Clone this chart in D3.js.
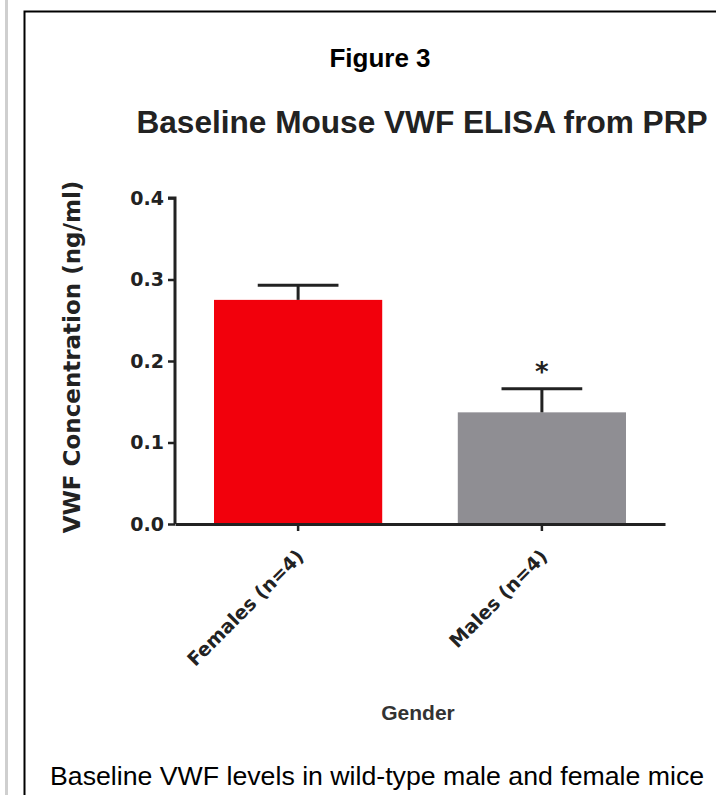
<!DOCTYPE html>
<html>
<head>
<meta charset="utf-8">
<script src="https://cdn.jsdelivr.net/npm/d3@7"></script>
<style>
  body { margin: 0; background: #fff; }
  svg { display: block; font-family: "Liberation Sans", Arial, sans-serif; }
  .chart-text { font-family: "DejaVu Sans", sans-serif; font-weight: bold; }
</style>
</head>
<body>
<svg id="chart" width="716" height="795"></svg>
<script>
// Data
var groups = ["Females (n=4)", "Males (n=4)"];
var means = [0.275, 0.137];
var errors = [0.018, 0.029];
var barColors = ["#f2000c", "#8f8e93"];
var significant = [false, true];
var yTicks = [0.0, 0.1, 0.2, 0.3, 0.4];

var svg = d3.select("#chart");

// Page furniture
svg.append("rect").attr("x", 5).attr("y", 0).attr("width", 3).attr("height", 795).attr("fill", "#cfcfcf");
svg.append("path").attr("d", "M24.5,795V11.5H716").attr("fill", "none").attr("stroke", "#000").attr("stroke-width", 2);

svg.append("text").attr("x", 380).attr("y", 67).attr("text-anchor", "middle")
    .style("font-size", "26px").style("font-weight", "bold").text("Figure 3");

svg.append("text").attr("x", 422).attr("y", 133).attr("text-anchor", "middle")
    .attr("fill", "#222").style("font-size", "31.6px").style("font-weight", "bold")
    .text("Baseline Mouse VWF ELISA from PRP");

// Scales
var x = d3.scaleBand().domain(groups).range([175, 665]).paddingInner(0.31).paddingOuter(0.16);
var y = d3.scaleLinear().domain([0, 0.4]).range([524, 198]);

// Bars
svg.selectAll("rect.bar").data(groups).enter().append("rect")
    .attr("class", "bar")
    .attr("x", function(d) { return x(d); })
    .attr("y", function(d, i) { return y(means[i]); })
    .attr("width", x.bandwidth())
    .attr("height", function(d, i) { return y(0) - y(means[i]); })
    .attr("fill", function(d, i) { return barColors[i]; });

// Error bars (upper only)
var capHalf = x.bandwidth() * 0.24;
groups.forEach(function(g, i) {
  var cx = x(g) + x.bandwidth() / 2;
  var top = y(means[i] + errors[i]);
  svg.append("line").attr("x1", cx).attr("x2", cx).attr("y1", y(means[i])).attr("y2", top)
      .attr("stroke", "#222").attr("stroke-width", 3);
  svg.append("line").attr("x1", cx - capHalf).attr("x2", cx + capHalf).attr("y1", top).attr("y2", top)
      .attr("stroke", "#222").attr("stroke-width", 3);
  if (significant[i]) {
    svg.append("text").attr("class", "chart-text").attr("x", cx).attr("y", top - 8).attr("text-anchor", "middle")
        .attr("fill", "#222").style("font-size", "26px").text("*");
  }
});

// Y axis
var yAxis = svg.append("g").attr("transform", "translate(175,0)")
    .call(d3.axisLeft(y).tickValues(yTicks).tickFormat(d3.format(".1f")).tickSize(7).tickPadding(4));
yAxis.select(".domain").attr("stroke", "#222").attr("stroke-width", 3).attr("d", "M0,524V198H-7");
yAxis.selectAll(".tick line").attr("stroke", "#222").attr("stroke-width", 2.5);
yAxis.selectAll(".tick text").attr("class", "chart-text").attr("fill", "#222").style("font-size", "19px");

// X axis
var xAxis = svg.append("g").attr("transform", "translate(0,524)")
    .call(d3.axisBottom(x).tickSize(7).tickSizeOuter(0));
xAxis.select(".domain").attr("stroke", "#222").attr("stroke-width", 3);
xAxis.selectAll(".tick line").attr("stroke", "#222").attr("stroke-width", 2.5);
xAxis.selectAll(".tick text")
    .attr("class", "chart-text").attr("fill", "#222").style("font-size", "19px")
    .attr("text-anchor", "end")
    .attr("y", 0).attr("dy", "0.35em")
    .attr("transform", "translate(2,29) rotate(-45)");

// Axis titles
svg.append("text").attr("class", "chart-text").attr("transform", "translate(80,357) rotate(-90)")
    .attr("text-anchor", "middle").attr("fill", "#222").style("font-size", "23px")
    .text("VWF Concentration (ng/ml)");
svg.append("text").attr("x", 418).attr("y", 720).attr("text-anchor", "middle")
    .attr("fill", "#333").style("font-size", "21px").style("font-weight", "bold").text("Gender");

// Caption
svg.append("text").attr("x", 50).attr("y", 785)
    .attr("fill", "#000").style("font-size", "26.7px")
    .text("Baseline VWF levels in wild-type male and female mice");
</script>
</body>
</html>
